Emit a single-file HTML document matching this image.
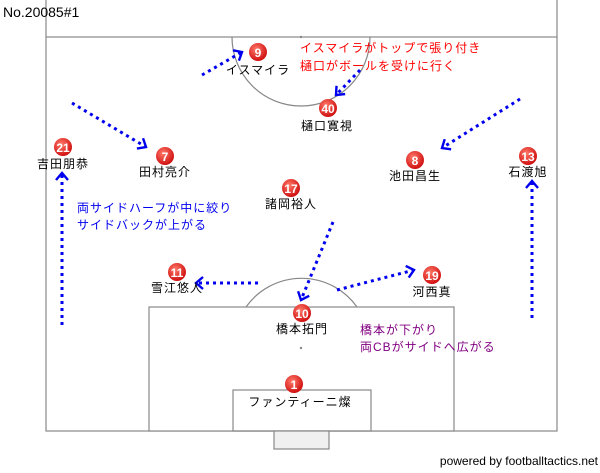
<!DOCTYPE html>
<html><head><meta charset="utf-8"><style>
body{margin:0;background:#fff;}
svg text{font-family:"Liberation Sans","Noto Sans CJK JP",sans-serif;}
</style></head><body>
<svg width="600" height="468" viewBox="0 0 600 468" xmlns="http://www.w3.org/2000/svg">
<defs>
<marker id="a" markerWidth="14" markerHeight="14" refX="9" refY="7" orient="auto" markerUnits="userSpaceOnUse">
<path d="M2,1 L9,7 L2,13" fill="none" stroke="#0000ee" stroke-width="2.4"/></marker>
<radialGradient id="g" cx="40%" cy="35%" r="65%"><stop offset="0" stop-color="#ff7a6a"/><stop offset="1" stop-color="#d01010"/></radialGradient>
</defs>
<g fill="none" stroke="#888" stroke-width="1.2">
<rect x="46" y="37" width="511" height="394"/>
<path d="M232,37 A69,69 0 0 0 370,37"/>
<line x1="46" y1="37" x2="46" y2="0"/><line x1="557" y1="37" x2="557" y2="0"/>
<rect x="149" y="307" width="305" height="124" fill="#fff"/>
<path d="M246,307 A68,68 0 0 1 357,307"/>
<rect x="233" y="390" width="138" height="41"/>
<rect x="274" y="431" width="55" height="18" fill="#f0f0f0"/>
</g>
<circle cx="301" cy="37" r="1.2" fill="#888"/>
<circle cx="301" cy="348" r="1.2" fill="#888"/>
<text x="3" y="17" font-size="14" font-family="Liberation Mono,monospace">No.20085#1</text>
<text x="598" y="465" font-size="12" text-anchor="end" font-family="Liberation Mono,monospace">powered by footballtactics.net</text>
<g stroke="#0000ee" stroke-width="3" stroke-dasharray="3,4" fill="none" marker-end="url(#a)">
<line x1="202" y1="75" x2="242" y2="52"/>
<line x1="360" y1="70" x2="336" y2="95"/>
<line x1="72" y1="103" x2="146" y2="147"/>
<line x1="520" y1="99" x2="442" y2="148"/>
<line x1="62" y1="325" x2="62" y2="173"/>
<line x1="532" y1="318" x2="532" y2="181"/>
<line x1="333" y1="222" x2="301" y2="300"/>
<line x1="258" y1="283" x2="196" y2="283"/>
<line x1="337" y1="290" x2="414" y2="270"/>
</g>
<g font-size="12" text-anchor="middle" letter-spacing="1">
<g><circle cx="258" cy="52" r="9" fill="url(#g)"/><text x="258" y="57" fill="#fff" font-weight="bold" letter-spacing="0">9</text><text x="258" y="74">イスマイラ</text></g>
<g><circle cx="328" cy="108" r="9" fill="url(#g)"/><text x="328" y="113" fill="#fff" font-weight="bold" letter-spacing="0">40</text><text x="327" y="130">樋口寛視</text></g>
<g><circle cx="63" cy="147" r="9" fill="url(#g)"/><text x="63" y="152" fill="#fff" font-weight="bold" letter-spacing="0">21</text><text x="63" y="168">吉田朋恭</text></g>
<g><circle cx="165" cy="156" r="9" fill="url(#g)"/><text x="165" y="161" fill="#fff" font-weight="bold" letter-spacing="0">7</text><text x="165" y="176">田村亮介</text></g>
<g><circle cx="415" cy="160" r="9" fill="url(#g)"/><text x="415" y="165" fill="#fff" font-weight="bold" letter-spacing="0">8</text><text x="415" y="180">池田昌生</text></g>
<g><circle cx="528" cy="156" r="9" fill="url(#g)"/><text x="528" y="161" fill="#fff" font-weight="bold" letter-spacing="0">13</text><text x="528" y="176">石渡旭</text></g>
<g><circle cx="291" cy="188" r="9" fill="url(#g)"/><text x="291" y="193" fill="#fff" font-weight="bold" letter-spacing="0">17</text><text x="291" y="208">諸岡裕人</text></g>
<g><circle cx="177" cy="272" r="9" fill="url(#g)"/><text x="177" y="277" fill="#fff" font-weight="bold" letter-spacing="0">11</text><text x="177" y="292">雪江悠人</text></g>
<g><circle cx="432" cy="275" r="9" fill="url(#g)"/><text x="432" y="280" fill="#fff" font-weight="bold" letter-spacing="0">19</text><text x="432" y="296">河西真</text></g>
<g><circle cx="302" cy="313" r="9" fill="url(#g)"/><text x="302" y="318" fill="#fff" font-weight="bold" letter-spacing="0">10</text><text x="302" y="333">橋本拓門</text></g>
<g><circle cx="294" cy="384" r="9" fill="url(#g)"/><text x="294" y="389" fill="#fff" font-weight="bold" letter-spacing="0">1</text><text x="300" y="406">ファンティーニ燦</text></g>
</g>
<g font-size="12" letter-spacing="1">
<text x="300" y="52" fill="#ff0000">イスマイラがトップで張り付き</text>
<text x="300" y="70" fill="#ff0000">樋口がボールを受けに行く</text>
<text x="77" y="212" fill="#0000ee">両サイドハーフが中に絞り</text>
<text x="77" y="229" fill="#0000ee">サイドバックが上がる</text>
<text x="360" y="334" fill="#800080">橋本が下がり</text>
<text x="360" y="351" fill="#800080">両CBがサイドへ広がる</text>
</g>
</svg>
</body></html>
